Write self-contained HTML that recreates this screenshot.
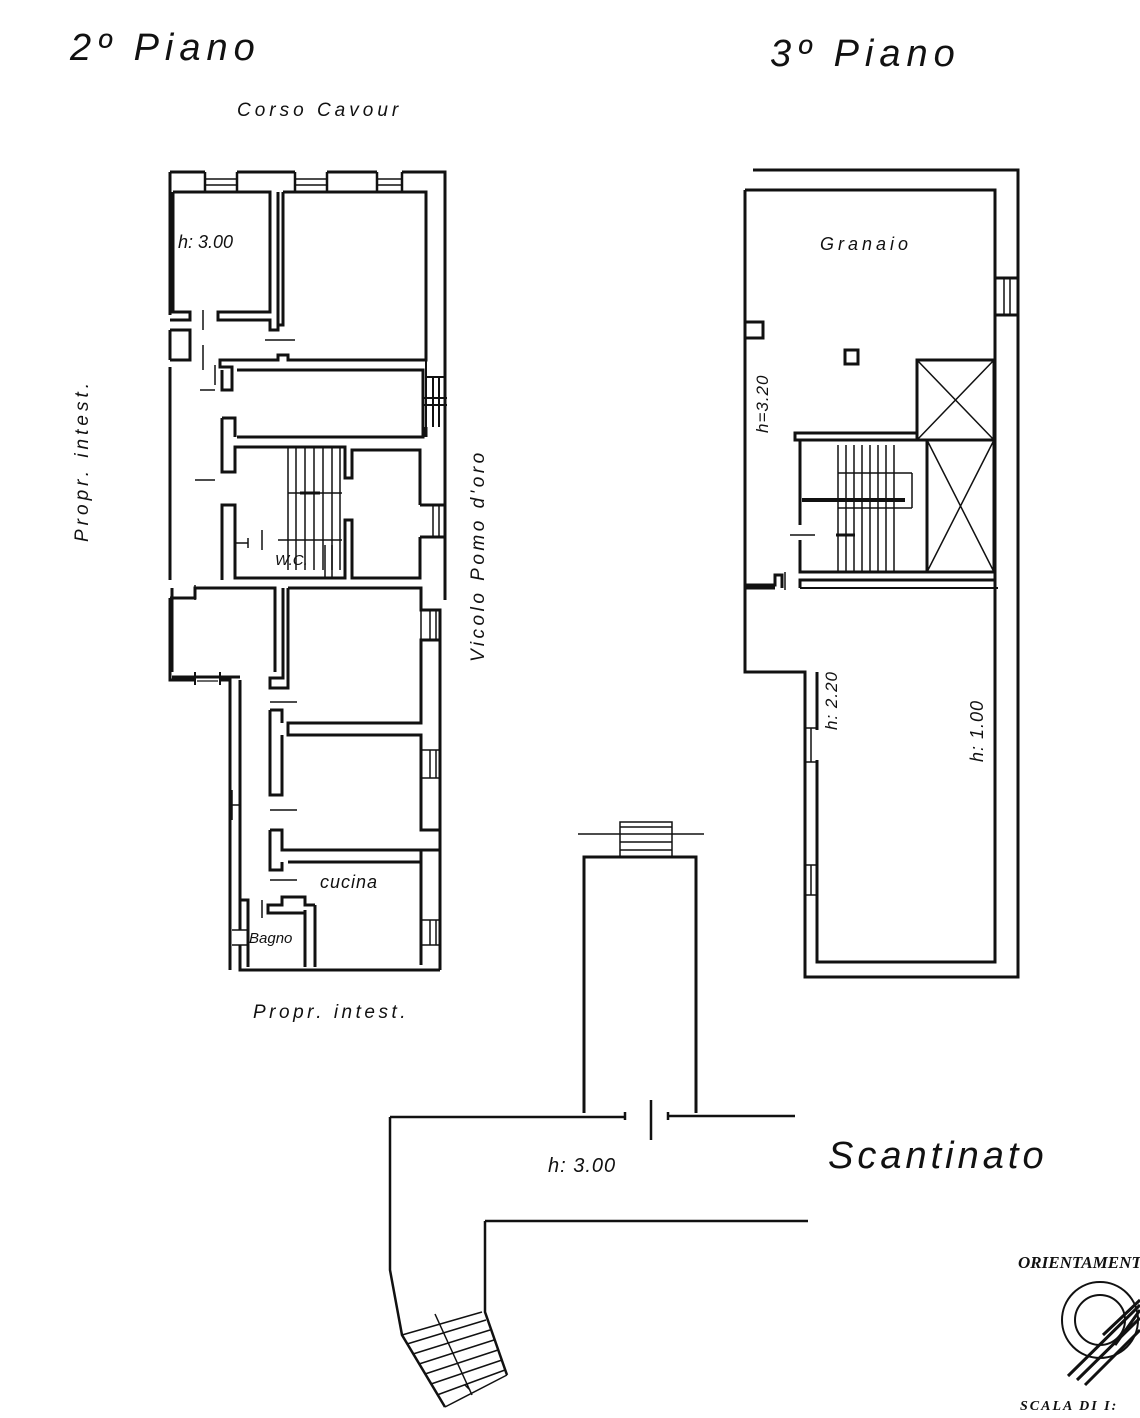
<!DOCTYPE html>
<html><head><meta charset="utf-8"><style>
html,body{margin:0;padding:0;background:#fff;}
svg{display:block;}
text{font-family:"Liberation Sans",sans-serif;font-style:italic;fill:#111;}
</style></head><body>
<svg width="1140" height="1418" viewBox="0 0 1140 1418" xmlns="http://www.w3.org/2000/svg">
<g fill="none" stroke="#111" stroke-width="3" stroke-linejoin="miter">

<!-- ===== 2nd floor ===== -->
<path d="M170 172 H205 M237 172 H295 M327 172 H377 M402 172 H445 V580"/>
<path d="M205 172 V192 M237 172 V192 M295 172 V192 M327 172 V192 M377 172 V192 M402 172 V192" stroke-width="2.5"/>
<path d="M205 179 H237 M205 185 H237 M295 179 H327 M295 185 H327 M377 179 H402 M377 185 H402" stroke-width="1.5"/>
<path d="M170 172 V315 M170 330 V360 M170 367 V580 M170 598 V680 H195 M220 680 H230 V970"/>
<path d="M172 677 H240"/>
<path d="M195 672 V685 M220 672 V685" stroke-width="2"/>
<path d="M197 677 H218 M197 681 H218" stroke-width="1.2"/>
<path d="M173 192 H270 V312 H218 V320 H270 V330 H278 V192"/>
<path d="M173 192 V312 H190 V320 H170"/>
<path d="M170 330 H190 V360 H170"/>
<path d="M283 192 H426 V360 H288 V355 H278 V360 H220 V367 H232 V390 H222 V370"/>
<path d="M283 192 V325 H278"/>
<path d="M426 360 V377 H445 M426 377 V427 M445 377 V427 M433 377 V427 M439 377 V427" stroke-width="2"/>
<path d="M424 398 H447 M424 405 H447" stroke-width="2"/>
<path d="M426 427 V437"/>
<path d="M237 370 H423 V437 H237"/>
<path d="M222 418 H235 V437 M222 418 V472 H235 V447 H345 V478 H352 V450 H420 V505"/>
<path d="M420 505 H445 V537 H420 M420 537 V578 H352 V520 H345 V578 H235 V505 H222 V580"/>
<path d="M433 505 V537 M439 505 V537" stroke-width="1.5"/>
<path d="M445 537 V600"/>
<path d="M288 447 V570 M296 447 V570 M305 447 V570 M314 447 V570 M323 447 V570 M332 447 V570 M340 447 V570" stroke-width="1.5"/>
<path d="M288 493 H342 M278 540 H342 M325 545 V578 M332 545 V578" stroke-width="1.5"/>
<path d="M300 493 H320" stroke-width="3"/>
<path d="M236 543 H248 M248 538 V548 M262 530 V550" stroke-width="1.5"/>
<path d="M170 598 H195 V588 H275 V672 M172 588 V672"/>
<path d="M218 588 H275"/>
<path d="M288 588 H421 V610 H440 V640 H421 V723 H288 V735 H421 V830 H440 V850 H421 V862 H288"/>
<path d="M283 588 V678 H270 V688 H288 V588"/>
<path d="M421 610 V640 M430 610 V640 M436 610 V640" stroke-width="1.5"/>
<path d="M440 640 V970 M421 850 V965" />
<path d="M421 750 H440 M421 778 H440 M430 750 V778 M436 750 V778" stroke-width="1.5"/>
<path d="M421 920 H440 M421 945 H440 M430 920 V945 M436 920 V945" stroke-width="1.5"/>
<path d="M270 710 V795 H282 V735 M270 710 H282 V723"/>
<path d="M270 830 V870 H282 V862 M270 830 H282 V850 H421"/>
<path d="M240 680 V900 H248 V910 M240 900 V930 M240 945 V970 H440 M248 910 V967 M305 910 V967 M315 905 H305 V897 H282 V905 H268 V913 H305 M315 905 V967"/>
<path d="M232 930 H248 M232 945 H248 M232 805 H240 M232 790 V820" stroke-width="1.5"/>
<path d="M203 310 V330 M203 345 V370 M215 365 V385 M200 390 H215 M195 480 H215 M195 585 V600 M265 340 H295 M270 702 H297 M270 810 H297 M270 880 H297 M262 900 V918" stroke-width="1.5"/>

<!-- ===== 3rd floor ===== -->
<path d="M753 170 H1018 V977 H805 V672 H745 V588 H775"/>
<path d="M745 190 H995 V278 H1017 M995 278 V315 H1017 M995 315 V962 H817 V760 M817 730 V672"/>
<path d="M1004 278 V315 M1010 278 V315" stroke-width="1.5"/>
<path d="M745 190 V585 H775 V575 H782 V588"/>
<path d="M800 588 V580 H995"/>
<path d="M800 588 H998" stroke-width="2"/>
<path d="M805 728 H817 M805 762 H817 M805 865 H817 M805 895 H817 M811 728 V762 M811 865 V895" stroke-width="1.5"/>
<rect x="745" y="322" width="18" height="16"/>
<rect x="845" y="350" width="13" height="14"/>
<rect x="917" y="360" width="77" height="80"/>
<path d="M917 360 L994 440 M994 360 L917 440" stroke-width="1.5"/>
<rect x="927" y="440" width="67" height="132"/>
<path d="M927 440 L994 572 M994 440 L927 572" stroke-width="1.5"/>
<path d="M795 433 H917 V440 H795 Z M800 440 V525 M800 540 V572 H927"/>
<path d="M838 445 V572 M846 445 V572 M854 445 V572 M862 445 V572 M870 445 V572 M878 445 V572 M886 445 V572 M894 445 V572" stroke-width="1.5"/>
<path d="M838 473 H912 M838 508 H912 M912 473 V508" stroke-width="1.5"/>
<path d="M802 500 H905" stroke-width="4"/>
<path d="M836 535 H855" stroke-width="3"/>
<path d="M790 535 H815 M785 572 V590" stroke-width="1.5"/>

<!-- ===== basement ===== -->
<path d="M584 1113 V857 H696 V1113"/>
<path d="M620 857 V822 H672 V857 M620 827 H672 M620 842 H672 M620 850 H672 M578 834 H704" stroke-width="1.5"/>
<path d="M390 1117 H625 M625 1112 V1120 M668 1112 V1120 M668 1116 H795 M651 1100 V1140" stroke-width="2.5"/>
<path d="M390 1117 V1270 L402 1335 L445 1407 M485 1221 H808 M485 1221 V1312 L507 1375" stroke-width="2.5"/>
<path d="M402 1335 L482 1312 M407 1344 L486 1320 M413 1354 L490 1330 M419 1364 L494 1340 M425 1374 L498 1350 M431 1384 L502 1360 M437 1395 L505 1370 M445 1407 L507 1375" stroke-width="1.5"/>
<path d="M435 1314 L472 1395 M465 1385 L470 1390" stroke-width="1.5"/>

<circle cx="1100" cy="1320" r="38" stroke-width="2"/>
<circle cx="1100" cy="1320" r="25" stroke-width="2"/>
<path d="M1068 1376 L1140 1305 M1077 1380 L1140 1318 M1085 1385 L1140 1330 M1103 1335 L1140 1300 M1115 1345 L1140 1310" stroke-width="3"/>
</g>

<text x="70" y="60" font-size="38" letter-spacing="6">2º Piano</text>
<text x="770" y="66" font-size="38" letter-spacing="6">3º Piano</text>
<text x="237" y="116" font-size="19" letter-spacing="4">Corso Cavour</text>
<text x="178" y="248" font-size="18">h: 3.00</text>
<text x="320" y="888" font-size="18" letter-spacing="1">cucina</text>
<text x="249" y="943" font-size="15">Bagno</text>
<text x="275" y="565" font-size="15">W.C.</text>
<text x="253" y="1018" font-size="19" letter-spacing="3.5">Propr. intest.</text>
<text transform="translate(88,542) rotate(-90)" font-size="19" letter-spacing="4">Propr. intest.</text>
<text transform="translate(484,662) rotate(-90)" font-size="19" letter-spacing="3.5">Vicolo Pomo d'oro</text>
<text x="820" y="250" font-size="18" letter-spacing="4">Granaio</text>
<text transform="translate(768,433) rotate(-90)" font-size="17" letter-spacing="1">h=3.20</text>
<text transform="translate(837,730) rotate(-90)" font-size="17" letter-spacing="1">h: 2.20</text>
<text transform="translate(983,762) rotate(-90)" font-size="18" letter-spacing="1">h: 1.00</text>
<text x="548" y="1172" font-size="20" letter-spacing="1">h: 3.00</text>
<text x="828" y="1168" font-size="38" letter-spacing="4">Scantinato</text>
<text x="1018" y="1268" font-size="17" font-weight="bold" style="font-family:'Liberation Serif',serif">ORIENTAMENTO</text>
<text x="1020" y="1410" font-size="14" font-weight="bold" letter-spacing="2" style="font-family:'Liberation Serif',serif">SCALA DI I:</text>
</svg>
</body></html>
